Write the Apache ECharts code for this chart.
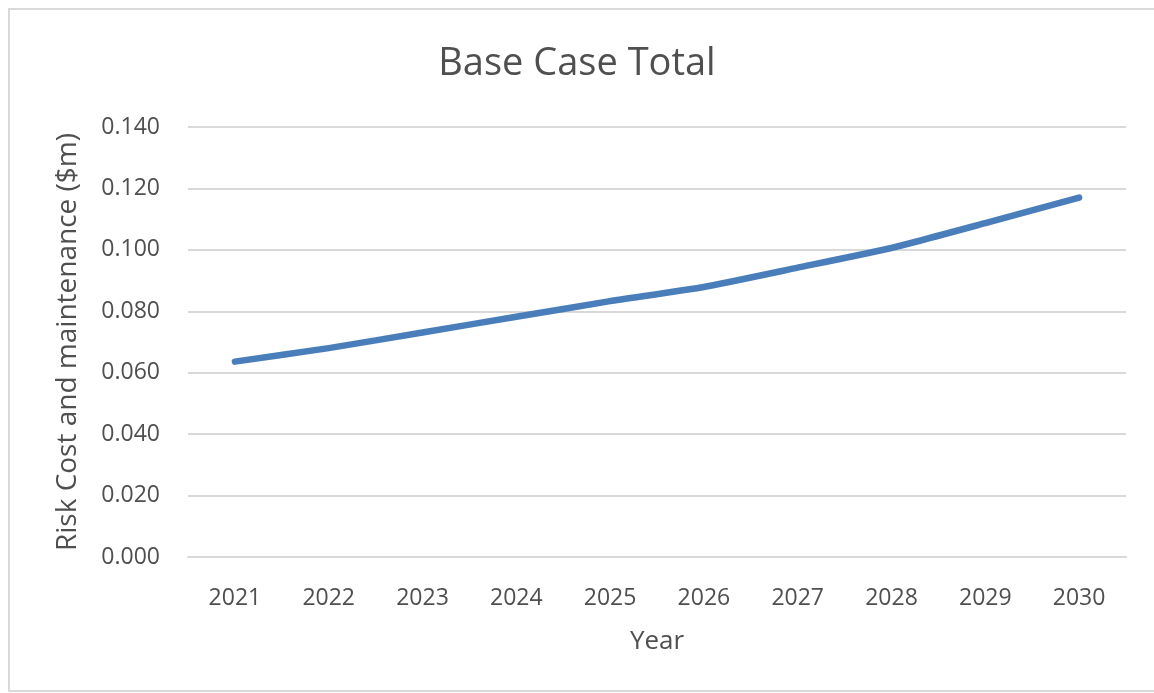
<!DOCTYPE html>
<html>
<head>
<meta charset="utf-8">
<script src="https://cdn.jsdelivr.net/npm/echarts@6/dist/echarts.min.js"></script>
<style>
  html, body { margin: 0; padding: 0; background: #fff; }
  #frame {
    position: absolute; left: 8px; top: 8px; width: 1150px; height: 684px;
    border: 2px solid #d9d9d9; box-sizing: border-box;
  }
  #chart { position: absolute; left: 0; top: 0; width: 1154px; height: 693px; }
</style>
</head>
<body>
<div id="frame"></div>
<div id="chart"></div>
<script>
// values
let years = ['2021', '2022', '2023', '2024', '2025', '2026', '2027', '2028', '2029', '2030'];
let baseCaseTotal = [0.0636, 0.0680, 0.0731, 0.0782, 0.0833, 0.0879, 0.0942, 0.1006, 0.1087, 0.1170];

let txt = '#4f4f4f';
let fontFam = '"Open Sans", "Noto Sans", sans-serif';

let option = {
  backgroundColor: 'transparent',
  title: {
    text: 'Base Case Total',
    left: 'center',
    top: 40,
    textStyle: { color: txt, fontSize: 38, fontWeight: 'normal', fontFamily: fontFam }
  },
  grid: { left: 188, right: 28, top: 127, bottom: 136 },
  xAxis: {
    type: 'category',
    data: years,
    boundaryGap: true,
    name: 'Year',
    nameLocation: 'middle',
    nameGap: 72,
    nameTextStyle: { color: txt, fontSize: 26, fontFamily: fontFam },
    axisLine: { lineStyle: { color: '#d9d9d9', width: 2 } },
    axisTick: { show: false },
    axisLabel: { color: txt, fontSize: 23, margin: 30, fontFamily: fontFam }
  },
  yAxis: {
    type: 'value',
    min: 0,
    max: 0.14,
    interval: 0.02,
    name: 'Risk Cost and maintenance ($m)',
    nameLocation: 'middle',
    nameGap: 106,
    nameTextStyle: { color: txt, fontSize: 28, fontFamily: fontFam },
    axisLine: { show: false },
    axisTick: { show: false },
    splitLine: { lineStyle: { color: '#d9d9d9', width: 2 } },
    axisLabel: {
      color: txt, fontSize: 23, margin: 28, fontFamily: fontFam,
      formatter: function (v) { return v.toFixed(3); }
    }
  },
  series: [
    {
      name: 'Base Case Total',
      type: 'line',
      data: baseCaseTotal,
      smooth: 0.15,
      symbol: 'none',
      lineStyle: { color: '#4a7ebb', width: 6.5, cap: 'round', join: 'round' }
    }
  ]
};

let myChart = echarts.init(document.getElementById('chart'));
myChart.setOption(option);
</script>
</body>
</html>
